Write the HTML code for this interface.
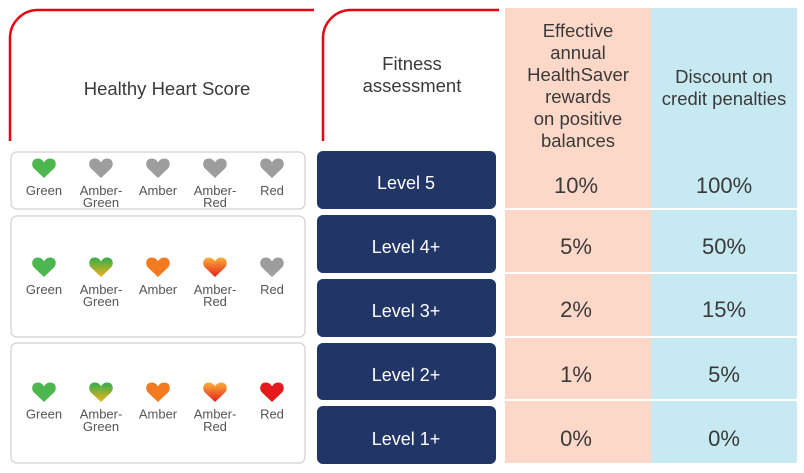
<!DOCTYPE html>
<html><head><meta charset="utf-8"><style>
html,body{margin:0;padding:0;background:#fff;}
svg{display:block;}
text{font-family:"Liberation Sans",sans-serif;}
</style></head><body>
<svg width="804" height="473" viewBox="0 0 804 473" xmlns="http://www.w3.org/2000/svg">
<defs>
<linearGradient id="ag" x1="0" y1="0" x2="0" y2="1"><stop offset="0" stop-color="#2fae4a"/><stop offset="1" stop-color="#f2b21c"/></linearGradient>
<linearGradient id="ar" x1="0" y1="0" x2="0" y2="1"><stop offset="0" stop-color="#fbb03b"/><stop offset="1" stop-color="#e4201b"/></linearGradient>
<path id="h" d="M0 20 L-10 10.5 C-13 7.5 -12.5 0.5 -6 0.5 C-3 0.5 -1 2.5 0 4.5 C1 2.5 3 0.5 6 0.5 C12.5 0.5 13 7.5 10 10.5 Z"/>
</defs>
<!-- colored columns -->
<rect x="505" y="8" width="146" height="455" fill="#fdd8c8"/>
<rect x="651" y="8" width="146" height="455" fill="#c7e9f1"/>
<g fill="#fff">
<rect x="505" y="208" width="292" height="2"/>
<rect x="505" y="272" width="292" height="2"/>
<rect x="505" y="336" width="292" height="2"/>
<rect x="505" y="399" width="292" height="2"/>
</g>
<!-- red header lines -->
<path d="M10 141 V38 A28 28 0 0 1 38 10 H314" fill="none" stroke="#e30613" stroke-width="2.5"/>
<path d="M323 141 V38 A28 28 0 0 1 351 10 H499" fill="none" stroke="#e30613" stroke-width="2.5"/>
<!-- headers -->
<g fill="#3a3a3a" text-anchor="middle" font-size="18.5">
<text x="167" y="95">Healthy Heart Score</text>
<text x="412" y="70">Fitness</text>
<text x="412" y="92">assessment</text>
<text x="578" y="37">Effective</text>
<text x="578" y="59">annual</text>
<text x="578" y="81">HealthSaver</text>
<text x="578" y="103">rewards</text>
<text x="578" y="125">on positive</text>
<text x="578" y="147">balances</text>
<text x="724" y="83">Discount on</text>
<text x="724" y="105">credit penalties</text>
</g>
<!-- navy level boxes -->
<g fill="#213567">
<rect x="317" y="151" width="179" height="58" rx="6"/>
<rect x="317" y="215" width="179" height="58" rx="6"/>
<rect x="317" y="279" width="179" height="58" rx="6"/>
<rect x="317" y="343" width="179" height="57" rx="6"/>
<rect x="317" y="406" width="179" height="58" rx="6"/>
</g>
<g fill="#fff" text-anchor="middle" font-size="18">
<text x="406" y="189">Level 5</text>
<text x="406" y="253">Level 4+</text>
<text x="406" y="317">Level 3+</text>
<text x="406" y="381">Level 2+</text>
<text x="406" y="445">Level 1+</text>
</g>
<!-- values -->
<g fill="#3a3a3a" text-anchor="middle" font-size="22">
<text x="576" y="193">10%</text><text x="724" y="193">100%</text>
<text x="576" y="254">5%</text><text x="724" y="254">50%</text>
<text x="576" y="317">2%</text><text x="724" y="317">15%</text>
<text x="576" y="382">1%</text><text x="724" y="382">5%</text>
<text x="576" y="446">0%</text><text x="724" y="446">0%</text>
</g>
<!-- left panels -->
<g fill="none" stroke="#d9d9d9" stroke-width="1.5">
<rect x="11" y="152" width="294" height="57" rx="6"/>
<rect x="11" y="216" width="294" height="121" rx="6"/>
<rect x="11" y="343" width="294" height="120" rx="6"/>
</g>
<!-- hearts row 1 -->
<use href="#h" x="44" y="158" fill="#4cb74f"/>
<use href="#h" x="101" y="158" fill="#9d9d9d"/>
<use href="#h" x="158" y="158" fill="#9d9d9d"/>
<use href="#h" x="215" y="158" fill="#9d9d9d"/>
<use href="#h" x="272" y="158" fill="#9d9d9d"/>
<!-- hearts row 2 -->
<use href="#h" x="44" y="257" fill="#4cb74f"/>
<use href="#h" x="101" y="257" fill="url(#ag)"/>
<use href="#h" x="158" y="257" fill="#f47a20"/>
<use href="#h" x="215" y="257" fill="url(#ar)"/>
<use href="#h" x="272" y="257" fill="#9d9d9d"/>
<!-- hearts row 3 -->
<use href="#h" x="44" y="382" fill="#4cb74f"/>
<use href="#h" x="101" y="382" fill="url(#ag)"/>
<use href="#h" x="158" y="382" fill="#f47a20"/>
<use href="#h" x="215" y="382" fill="url(#ar)"/>
<use href="#h" x="272" y="382" fill="#e3191b"/>
<!-- labels -->
<g fill="#555" text-anchor="middle" font-size="13">
<text x="44" y="195">Green</text>
<text x="101" y="195">Amber-</text><text x="101" y="207">Green</text>
<text x="158" y="195">Amber</text>
<text x="215" y="195">Amber-</text><text x="215" y="207">Red</text>
<text x="272" y="195">Red</text>

<text x="44" y="294">Green</text>
<text x="101" y="294">Amber-</text><text x="101" y="306">Green</text>
<text x="158" y="294">Amber</text>
<text x="215" y="294">Amber-</text><text x="215" y="306">Red</text>
<text x="272" y="294">Red</text>

<text x="44" y="418.5">Green</text>
<text x="101" y="418.5">Amber-</text><text x="101" y="431">Green</text>
<text x="158" y="418.5">Amber</text>
<text x="215" y="418.5">Amber-</text><text x="215" y="431">Red</text>
<text x="272" y="418.5">Red</text>
</g>
</svg>
</body></html>
